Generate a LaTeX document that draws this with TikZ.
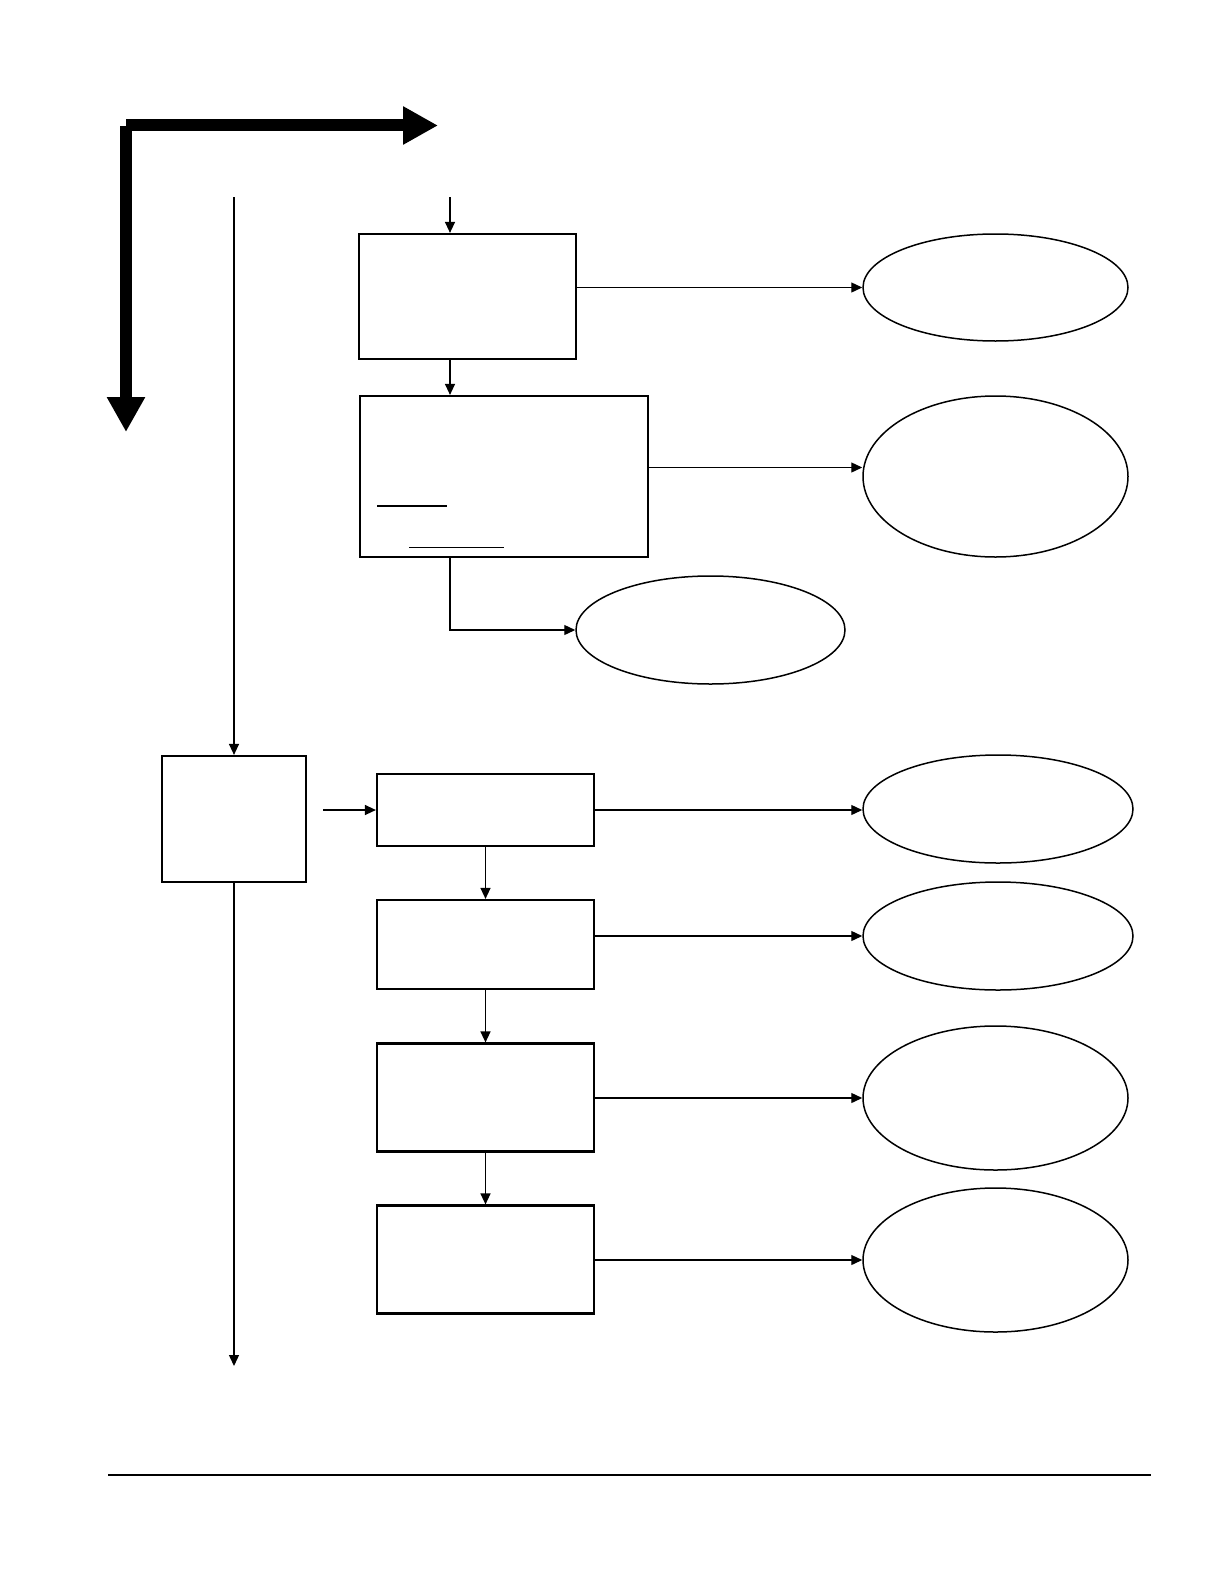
\documentclass[tikz,border=0pt]{standalone}
\usetikzlibrary{arrows.meta,shapes.geometric}

\begin{document}
\begin{tikzpicture}[x=1pt, y=-1pt,
    box/.style={draw, line width=2.2pt, inner sep=0pt},
    oval/.style={draw, ellipse, line width=1.5pt, inner sep=0pt},
    link/.style={line width=1.3pt, -{Triangle[length=11pt,width=10pt]}},
    bigarrow/.style={line width=12pt, -{Triangle[length=35pt,width=36pt]}}]
    \useasboundingbox (0,0) rectangle (1224,1584);
    % The two heavy arrows in the corner.
        \coordinate (corner) at (126,125.5);
        \coordinate (east) at (438,125.5);
        \coordinate (south) at (126,432);
        \draw[bigarrow] (corner) -- (east);
        \draw[bigarrow] ([yshift=-0.5pt]corner) -- (south);
    % Below nodes are the boxes.
        \node[box, minimum width=217, minimum height=125] (A) at (467.5,296.5) {};
        \node[box, minimum width=288, minimum height=161] (B) at (504,476.5) {};
        \node[box, minimum width=144, minimum height=126] (C) at (234,819) {};
        \node[box, minimum width=217, minimum height=72] (D) at (485.5,810) {};
        \node[box, minimum width=217, minimum height=89] (E) at (485.5,944.5) {};
        \node[box, minimum width=217, minimum height=108] (F) at (485.5,1097.5) {};
        \node[box, minimum width=217, minimum height=108] (G) at (485.5,1259.5) {};
    % Below nodes are the ovals.
        \node[oval, minimum width=265, minimum height=107] (O1) at (995.5,287.5) {};
        \node[oval, minimum width=265, minimum height=161] (O2) at (995.5,476.5) {};
        \node[oval, minimum width=269, minimum height=108] (O3) at (710.5,630) {};
        \node[oval, minimum width=270, minimum height=108] (O4) at (998,809) {};
        \node[oval, minimum width=270, minimum height=108] (O5) at (998,936) {};
        \node[oval, minimum width=265, minimum height=144] (O6) at (995.5,1098) {};
        \node[oval, minimum width=265, minimum height=144] (O7) at (995.5,1260) {};
    % Free ends of the connectors.
        \coordinate (aIn) at (450,197);
        \coordinate (cIn) at (234,197);
        \coordinate (cOut) at (234,1366);
        \coordinate (dIn) at (323,810);
        \coordinate (bOut) at ([yshift=9pt]B.east);
    % The connectors.
        \draw[link] (aIn) -- (A.north -| aIn);
        \draw[link] (A.south -| aIn) -- (B.north -| aIn);
        \draw[link] (B.south -| aIn) |- (O3.west);
        \draw[link] (A.east |- O1.west) -- (O1.west);
        \draw[link] (bOut) -- (bOut -| O2.west);
        \draw[link] (cIn) -- (C.north);
        \draw[link] (C.south) -- (cOut);
        \draw[link] (dIn) -- (D.west);
        \draw[link] (D.south) -- (E.north);
        \draw[link] (E.south) -- (F.north);
        \draw[link] (F.south) -- (G.north);
        \draw[link] (D.east) -- (D.east -| O4.west);
        \draw[link] (E.east |- O5.west) -- (O5.west);
        \draw[link] (F.east |- O6.west) -- (O6.west);
        \draw[link] (G.east |- O7.west) -- (O7.west);
    % This draws the two rules inside the second box.
        \draw[line width=2pt] (377,505.7) -- (447,505.7);
        \draw[line width=1pt] (409,547) -- (504,547);
    % The rule at the foot of the page.
        \draw[line width=2pt] (108,1474.5) -- (1151,1474.5);
\end{tikzpicture}
\end{document}
